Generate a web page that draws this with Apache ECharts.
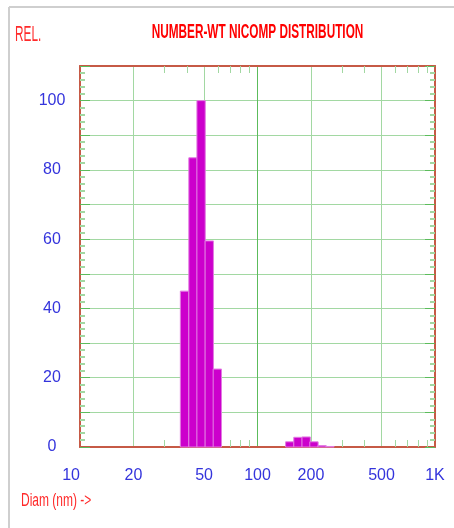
<!DOCTYPE html>
<html><head><meta charset="utf-8">
<script src="https://cdn.jsdelivr.net/npm/echarts@6/dist/echarts.min.js"></script>
<style>html,body{margin:0;padding:0;background:#fff}#c{width:454px;height:528px}</style>
</head><body><div id="c"></div>
<script>
// ---- data ----
const diameters = [38.8, 43.3, 48.1, 53.5, 59.4, 152, 169, 188, 208, 231, 256];
const values    = [45, 83.5, 100, 59.5, 22.5, 1.5, 2.8, 2.9, 1.5, 0.4, 0.15];
const binRatio = 1.114;
const xLabelValues = [10, 20, 50, 100, 200, 500, 1000];
const xLabelTexts  = ['10', '20', '50', '100', '200', '500', '1K'];
const xGridValues = [20, 50, 100, 200, 500];
const xMinorTickValues = [30, 40, 60, 70, 80, 90, 300, 400, 600, 700, 800, 900];
const yLabelValues = [0, 20, 40, 60, 80, 100];
const titleText = 'NUMBER-WT NICOMP DISTRIBUTION';
const yName = 'REL.';
const xName = 'Diam (nm) ->';

// ---- styles ----
const FONT = '"Liberation Sans Narrow", "Arial Narrow", "Liberation Sans", sans-serif';
const BORDER = '#c65a46';
const LBLUE = '#3434dc';
const GRID_LIGHT = '#a2d8a2';
const GRID_DARK = '#5cbc5c';

const chart = echarts.init(document.getElementById('c'), null, {renderer: 'canvas'});
const data = diameters.map((d, i) => [d, values[i]]);

function xAxisBase(extra) {
  return Object.assign({
    type: 'log', logBase: 10, min: 10, max: 1000,
    axisLine: {show: true, onZero: false, lineStyle: {color: BORDER, width: 2}},
    axisTick: {show: false},
    axisLabel: {show: false},
    splitLine: {show: false},
    minorTick: {show: false},
    minorSplitLine: {show: false}
  }, extra);
}
function yAxisBase(extra) {
  return Object.assign({
    type: 'value', min: 0, max: 110, interval: 10,
    axisLine: {show: true, lineStyle: {color: BORDER, width: 2}},
    axisTick: {show: true, inside: true, length: 10, lineStyle: {color: GRID_DARK, width: 1}},
    minorTick: {show: true, splitNumber: 5, length: 5, lineStyle: {color: GRID_LIGHT, width: 2}},
    axisLabel: {show: false},
    splitLine: {show: false}
  }, extra);
}

chart.setOption({
  animation: false,
  backgroundColor: '#ffffff',
  grid: {left: 80, right: 19, top: 66, bottom: 81, containLabel: false},
  xAxis: [
    xAxisBase({
      position: 'bottom',
      axisTick: {show: true, inside: true, length: 7, customValues: xMinorTickValues,
                 lineStyle: {color: GRID_LIGHT, width: 1}},
      axisLabel: {show: true, customValues: xLabelValues,
                  formatter: v => xLabelTexts[xLabelValues.indexOf(Math.round(v))] || '',
                  fontFamily: FONT, fontSize: 16, color: LBLUE, margin: 21,
                  alignMinLabel: 'right'}
    }),
    xAxisBase({
      position: 'top',
      axisTick: {show: true, inside: true, length: 7, customValues: xMinorTickValues,
                 lineStyle: {color: GRID_LIGHT, width: 1}}
    }),
    xAxisBase({
      position: 'bottom',
      axisLine: {show: false},
      axisTick: {show: false, customValues: xGridValues},
      splitLine: {show: true, lineStyle: {color: [GRID_LIGHT, GRID_LIGHT, GRID_DARK, GRID_LIGHT, GRID_LIGHT], width: 1}}
    })
  ],
  yAxis: [
    yAxisBase({
      position: 'left',
      axisLabel: {show: true, formatter: v => (yLabelValues.indexOf(v) >= 0 ? String(v) : ''),
                  fontFamily: FONT, fontSize: 16, color: LBLUE, align: 'center', margin: 28,
                  padding: [4, 0, 0, 0]},
      splitLine: {show: true, lineStyle: {color: GRID_LIGHT, width: 1}}
    }),
    yAxisBase({position: 'right'})
  ],
  graphic: [
    {type: 'line', shape: {x1: 9, y1: 7, x2: 454, y2: 7}, style: {stroke: '#cfcfcf', lineWidth: 2}, silent: true},
    {type: 'line', shape: {x1: 9, y1: 7, x2: 9, y2: 528}, style: {stroke: '#cfcfcf', lineWidth: 2}, silent: true},
    {type: 'text', x: 257.5, y: 32.3, scaleY: 1.68,
     style: {text: titleText, fill: '#ff0000', textAlign: 'center', textVerticalAlign: 'middle',
             font: 'bold 11.8px ' + FONT}},
    {type: 'text', x: 15, y: 35.3, scaleY: 1.85,
     style: {text: yName, fill: '#ff2a2a', textAlign: 'left', textVerticalAlign: 'middle',
             font: '11.8px ' + FONT}},
    {type: 'text', x: 21, y: 501, scaleY: 1.6,
     style: {text: xName, fill: '#ff2a2a', textAlign: 'left', textVerticalAlign: 'middle',
             font: '12px ' + FONT}}
  ],
  series: [{
    type: 'custom',
    xAxisIndex: 0, yAxisIndex: 0,
    data: data,
    encode: {x: 0, y: 1},
    z: 3,
    renderItem: function (params, api) {
      const d = api.value(0), v = api.value(1);
      const h = Math.sqrt(binRatio);
      const pTop = api.coord([d / h, v]);
      const pBot = api.coord([d * h, 0]);
      return {
        type: 'rect',
        shape: {x: pTop[0], y: pTop[1], width: pBot[0] - pTop[0], height: pBot[1] - pTop[1]},
        style: {fill: '#cc00cc', stroke: '#e27be2', lineWidth: 1}
      };
    }
  }]
});
</script>
</body></html>
